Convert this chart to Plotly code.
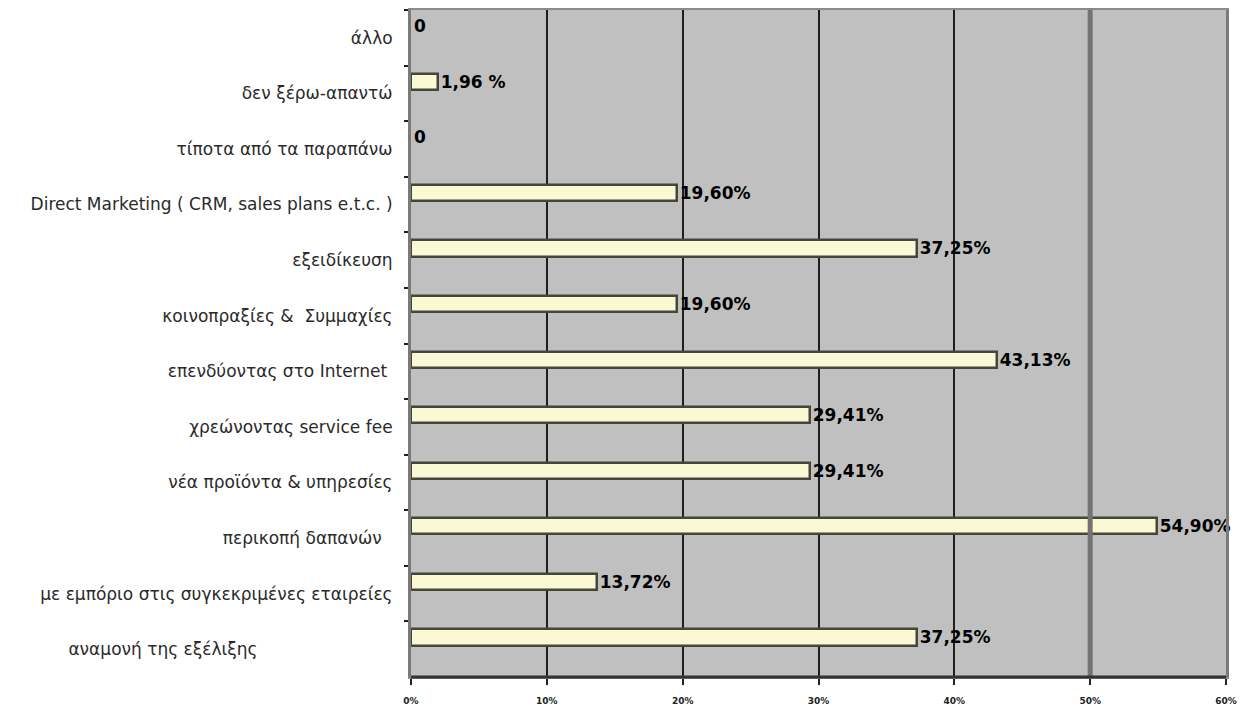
import plotly.graph_objects as go

# Survey answers, listed from top to bottom of the chart
categories = [
    "άλλο",
    "δεν ξέρω-απαντώ",
    "τίποτα από τα παραπάνω",
    "Direct Marketing ( CRM, sales plans e.t.c. )",
    "εξειδίκευση",
    "κοινοπραξίες &  Συμμαχίες",
    "επενδύοντας στο Internet\u00a0",
    "χρεώνοντας service fee",
    "νέα προϊόντα & υπηρεσίες",
    "περικοπή δαπανών\u00a0\u00a0",
    "με εμπόριο στις συγκεκριμένες εταιρείες",
    "αναμονή της εξέλιξης" + "\u00a0" * 25,
]
values = [0, 1.96, 0, 19.60, 37.25, 19.60, 43.13, 29.41, 29.41, 54.90, 13.72, 37.25]
value_labels = ["0", "1,96 %", "0", "19,60%", "37,25%", "19,60%", "43,13%",
                "29,41%", "29,41%", "54,90%", "13,72%", "37,25%"]

x_ticks = [0, 10, 20, 30, 40, 50, 60]
x_tick_text = ["0%", "10%", "20%", "30%", "40%", "50%", "60%"]

bar_width = 0.29
shift_up = 0.21

# no outline on empty bars
outline_widths = [2.5 if v > 0 else 0 for v in values]

fig = go.Figure()
fig.add_trace(go.Bar(
    y=categories,
    x=values,
    orientation="h",
    width=bar_width,
    offset=-shift_up - bar_width / 2,
    marker=dict(color="#FBF9D3", line=dict(color="#45453a", width=outline_widths)),
    text=value_labels,
    textposition="outside",
    constraintext="none",
    cliponaxis=False,
    textfont=dict(family="DejaVu Sans", size=17, color="#000000", weight="bold"),
    hoverinfo="skip",
))

# heavier grey line at the 50% mark
fig.add_shape(type="line", xref="x", yref="paper", x0=50, x1=50, y0=0, y1=1,
              line=dict(color="#737373", width=5), layer="above")
# dark baseline under the plot area
fig.add_shape(type="line", xref="paper", yref="paper", x0=0, x1=1, y0=0, y1=0,
              line=dict(color="#333333", width=3), layer="above")

fig.update_layout(
    width=1247,
    height=708,
    margin=dict(l=411, r=21, t=10, b=31),
    paper_bgcolor="#ffffff",
    plot_bgcolor="#c0c0c0",
    showlegend=False,
    bargap=0,
)
fig.update_xaxes(
    range=[0, 60],
    tickvals=x_ticks,
    ticktext=x_tick_text,
    automargin=False,
    showgrid=True,
    gridcolor="#1e1e1e",
    gridwidth=2,
    zeroline=False,
    showline=True,
    linecolor="#8a8a8a",
    linewidth=2,
    mirror=True,
    ticks="outside",
    ticklen=6,
    tickcolor="#222222",
    tickwidth=2,
    ticklabelstandoff=8,
    tickfont=dict(family="DejaVu Sans", size=9, color="#222222", weight="bold"),
)
fig.update_yaxes(
    autorange=False,
    range=[11.5, -0.5],
    type="category",
    automargin=False,
    showgrid=False,
    zeroline=False,
    showline=True,
    linecolor="#7a7a7a",
    linewidth=3,
    mirror=True,
    ticks="outside",
    tickson="boundaries",
    ticklen=4,
    tickcolor="#222222",
    tickwidth=2,
    ticklabelstandoff=12,
    tickfont=dict(family="DejaVu Sans", size=17, color="#2a2a2a"),
)

fig.write_html("out.html")
